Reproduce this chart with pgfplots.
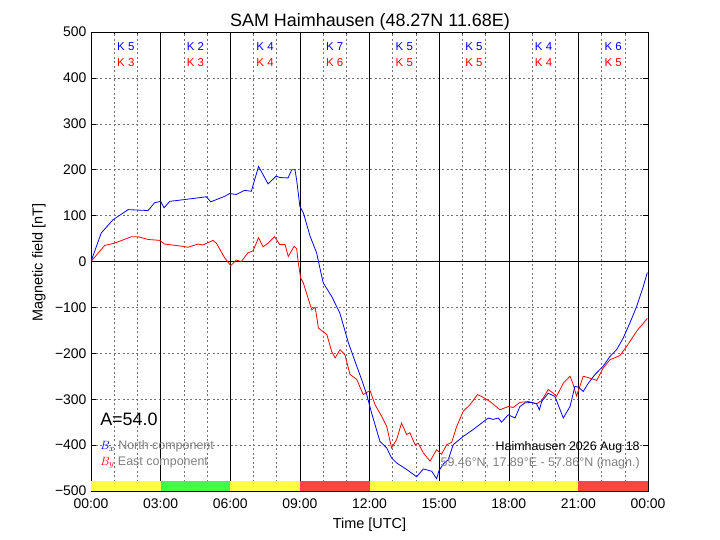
\documentclass[border=0pt]{standalone}
\usepackage{pgfplots}
\pgfplotsset{compat=1.18}
\usepackage{fontspec}
\setmainfont{Liberation Sans}
\definecolor{kyel}{RGB}{255,255,64}
\definecolor{kgrn}{RGB}{64,255,64}
\definecolor{kred}{RGB}{255,68,68}
\definecolor{txtgray}{RGB}{128,128,128}

\pgfplotstableread{
h v
0 0
0.44 62
0.95 91
1.6 113
2.46 111
2.74 128
3.0 131
3.15 117
3.39 131
4.04 135
4.97 141
5.16 130
5.76 142
5.97 148
6.26 146
6.62 155
6.91 153
7.05 178
7.22 207
7.34 196
7.63 169
7.98 186
8.13 183
8.49 182
8.65 200
8.79 200
8.86 178
9.0 120
9.15 106
9.44 55
9.72 19
9.94 -32
10.01 -47
10.37 -76
10.72 -112
11.09 -177
11.45 -228
11.66 -257
11.88 -290
12.09 -330
12.45 -392
12.74 -406
12.95 -428
13.17 -439
13.6 -453
14.03 -469
14.32 -452
14.68 -457
14.89 -473
15.0 -455
15.2 -440
15.39 -432
15.61 -399
16.04 -381
16.47 -366
16.83 -352
17.12 -341
17.33 -344
17.55 -341
17.69 -350
17.98 -334
18.27 -341
18.48 -316
18.70 -308
18.99 -307
19.20 -310
19.32 -323
19.42 -305
19.70 -287
19.99 -294
20.35 -341
20.64 -316
20.85 -272
21.0 -274
21.21 -283
21.43 -265
21.72 -246
22.07 -228
22.36 -207
22.65 -192
22.93 -167
23.22 -134
23.51 -98
23.80 -54
23.97 -24
}\bx

\pgfplotstableread{
h v
0 0
0.59 35
1.02 40
1.74 54
2.03 54
2.46 48
2.96 46
3.17 38
3.96 33
4.18 31
4.61 38
4.82 36
5.26 46
5.40 40
5.76 8
6.02 -9
6.26 3
6.48 0
6.76 19
6.98 23
7.22 52
7.41 32
7.63 40
7.91 54
8.13 37
8.36 37
8.50 11
8.75 33
8.86 28
8.93 -2
9.03 -35
9.15 -47
9.51 -105
9.66 -100
9.80 -145
10.16 -159
10.37 -196
10.52 -210
10.73 -192
10.94 -203
11.16 -246
11.45 -257
11.73 -290
12.02 -281
12.24 -312
12.52 -337
12.74 -359
12.95 -406
13.17 -388
13.38 -352
13.6 -377
13.74 -373
13.96 -399
14.10 -396
14.32 -417
14.61 -435
14.89 -410
15.1 -420
15.33 -399
15.54 -394
15.76 -359
16.04 -326
16.33 -312
16.65 -290
16.83 -294
17.19 -305
17.62 -323
17.98 -316
18.19 -318
18.48 -307
18.84 -305
19.20 -310
19.42 -303
19.70 -279
19.92 -287
20.06 -294
20.35 -265
20.64 -250
20.76 -265
20.92 -293
21.21 -250
21.50 -254
21.79 -259
22.07 -232
22.36 -214
22.79 -205
23.08 -185
23.51 -152
23.97 -124
}\by

\begin{document}
\begin{tikzpicture}
\useasboundingbox (0,0) rectangle (720bp,540bp);
\begin{axis}[
  at={(91bp,49bp)}, anchor=south west,
  width=557bp, height=459bp, scale only axis,
  xmin=0, xmax=24, ymin=-500, ymax=500,
  xtick={0,3,...,24},
  xticklabels={00:00,03:00,06:00,09:00,12:00,15:00,18:00,21:00,00:00},
  minor xtick={1,2,4,5,7,8,10,11,13,14,16,17,19,20,22,23},
  ytick={-500,-400,...,500},
  yticklabels={−500,−400,−300,−200,−100,0,100,200,300,400,500},
  tick align=inside, tick pos=both,
  major tick length=5bp, minor tick length=2.5bp,
  every tick/.style={black, line width=0.5pt},
  xminorgrids=true, ymajorgrids=true,
  grid style={dash pattern=on 2bp off 2.5bp, black!55, line width=0.5pt},
  tick label style={font=\fontsize{14}{16}\selectfont},
  xticklabel style={yshift=-4bp},
  yticklabel style={xshift=-1bp},
  axis line style={line width=0.8pt},
]
\pgfplotsinvokeforeach{3,6,9,12,15,18,21}{
  \draw[black, line width=0.5pt] (axis cs:#1,-500) -- (axis cs:#1,500);
}
\draw[black, line width=1.2pt] (axis cs:0,0) -- (axis cs:24,0);
\addplot[fill=kyel, draw=none] coordinates {(0,-500) (3,-500) (3,-478) (0,-478)} --cycle;
\addplot[fill=kgrn, draw=none] coordinates {(3,-500) (6,-500) (6,-478) (3,-478)} --cycle;
\addplot[fill=kyel, draw=none] coordinates {(6,-500) (9,-500) (9,-478) (6,-478)} --cycle;
\addplot[fill=kred, draw=none] coordinates {(9,-500) (12,-500) (12,-478) (9,-478)} --cycle;
\addplot[fill=kyel, draw=none] coordinates {(12,-500) (21,-500) (21,-478) (12,-478)} --cycle;
\addplot[fill=kred, draw=none] coordinates {(21,-500) (24,-500) (24,-478) (21,-478)} --cycle;

\addplot[red, line width=0.8pt] table[x=h, y=v] {\by};
\addplot[blue, line width=0.8pt] table[x=h, y=v] {\bx};

\begin{scope}[every node/.style={font=\fontsize{11.5}{13}\selectfont, inner sep=0}]
\node[blue] at (axis cs:1.5,469) {K 5};
\node[blue] at (axis cs:4.5,469) {K 2};
\node[blue] at (axis cs:7.5,469) {K 4};
\node[blue] at (axis cs:10.5,469) {K 7};
\node[blue] at (axis cs:13.5,469) {K 5};
\node[blue] at (axis cs:16.5,469) {K 5};
\node[blue] at (axis cs:19.5,469) {K 4};
\node[blue] at (axis cs:22.5,469) {K 6};
\node[red] at (axis cs:1.5,434) {K 3};
\node[red] at (axis cs:4.5,434) {K 3};
\node[red] at (axis cs:7.5,434) {K 4};
\node[red] at (axis cs:10.5,434) {K 6};
\node[red] at (axis cs:13.5,434) {K 5};
\node[red] at (axis cs:16.5,434) {K 5};
\node[red] at (axis cs:19.5,434) {K 4};
\node[red] at (axis cs:22.5,434) {K 5};
\end{scope}

\node[anchor=west, inner sep=0, font=\fontsize{18}{20}\selectfont] at (axis cs:0.39,-344) {A=54.0};
\node[anchor=west, inner sep=0, font=\fontsize{12.5}{14}\selectfont, text=txtgray] at (axis cs:0.39,-403) {{\color{blue}$B_x$}\ North component};
\node[anchor=west, inner sep=0, font=\fontsize{12.5}{14}\selectfont, text=txtgray] at (axis cs:0.39,-438) {{\color{red}$B_y$}\ East component};
\node[anchor=east, inner sep=0, font=\fontsize{12.5}{14}\selectfont] at (axis cs:23.65,-405) {Haimhausen 2026 Aug 18};
\node[anchor=east, inner sep=0, font=\fontsize{12.5}{14}\selectfont, text=txtgray] at (axis cs:23.65,-440) {59.46°N, 17.89°E - 57.86°N (magn.)};
\end{axis}
\node[anchor=base, inner sep=0, font=\fontsize{18}{20}\selectfont] at (370bp,513.5bp) {SAM Haimhausen (48.27N 11.68E)};
\node[anchor=base, inner sep=0, font=\fontsize{14.5}{16}\selectfont] at (369.5bp,12bp) {Time [UTC]};
\node[rotate=90, inner sep=0, font=\fontsize{14.5}{16}\selectfont] at (39bp,277.5bp) {Magnetic field [nT]};
\end{tikzpicture}
\end{document}
